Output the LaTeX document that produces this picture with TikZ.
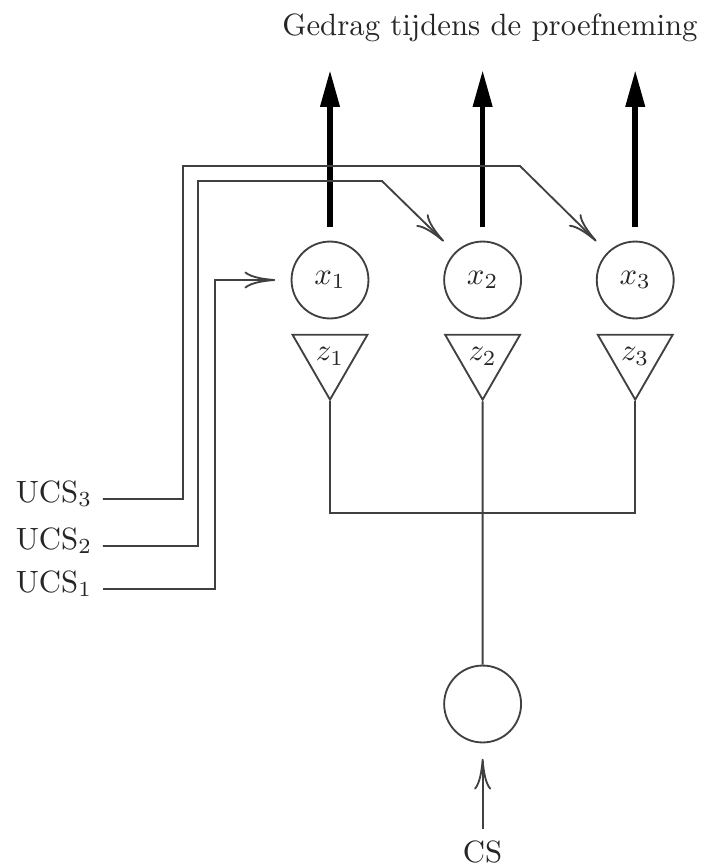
\documentclass[tikz,border=0pt]{standalone}
\usetikzlibrary{shapes.geometric, arrows.meta, positioning, calc}
\tikzstyle{unit} = [circle, draw=black!75, line width=0.6pt, minimum size=25pt, inner sep=0pt]
\tikzstyle{gate} = [regular polygon, regular polygon sides=3, shape border rotate=180,
    draw=black!75, line width=0.6pt, minimum size=28.1pt, inner sep=0pt]
\tikzstyle{stim} = [anchor=base west]
\tikzstyle{wire} = [draw=black!75, line width=0.6pt]
\tikzstyle{input} = [wire, -{Computer Modern Rightarrow[length=10pt,width=5.5pt]}]
\tikzstyle{output} = [line width=1.8pt, -{Triangle[length=12pt,width=6pt]}]

\begin{document}
\begin{tikzpicture}[x=0.325pt, y=-0.325pt, node distance=24pt, text=black!85]
\useasboundingbox (0,0) rectangle (701,867);
\node (title) [anchor=base] at (490,35) {Gedrag tijdens de proefneming};
\node (x1) [unit] at (330,280) {$x_1$};
\node (x2) [unit, right=of x1] {$x_2$};
\node (x3) [unit, right=of x2] {$x_3$};
\node (z1) [gate, below=4.7pt of x1] {$z_1$};
\node (z2) [gate, below=4.7pt of x2] {$z_2$};
\node (z3) [gate, below=4.7pt of x3] {$z_3$};
\node (c) [unit] at (x2 |- 0,704) {};
\node (cs) [anchor=base] at (c |- 0,862) {CS};
\node (u3) [stim] at (5,502) {UCS$_3$};
\node (u2) [stim] at (5,549) {UCS$_2$};
\node (u1) [stim] at (5,592) {UCS$_1$};
\coordinate (j) at (x2 |- 0,513);

% gedrag
\foreach \i in {1,2,3}
  \draw[output] ([yshift=4.4pt]x\i.north) -- (x\i.north |- 0,70);

% CS naar de z-eenheden
\draw[wire] (z1.south) |- (j) -| (z3.south);
\draw[wire] (z2.south) -- (c.north);
\draw[input, shorten >=5pt] (cs.north) -- (c.south);

% UCS naar de x-eenheden
\draw[input, shorten >=5pt] ($(u3.base east)+(0,-3)$) -| (183,166) -- (520,166) -- (x3.135);
\draw[input, shorten >=5pt] ($(u2.base east)+(0,-3)$) -| (198,181) -- (382,181) -- (x2.135);
\draw[input, shorten >=5pt] ($(u1.base east)+(0,-3)$) -| (215,280) -- (x1.west);
\end{tikzpicture}
\end{document}
